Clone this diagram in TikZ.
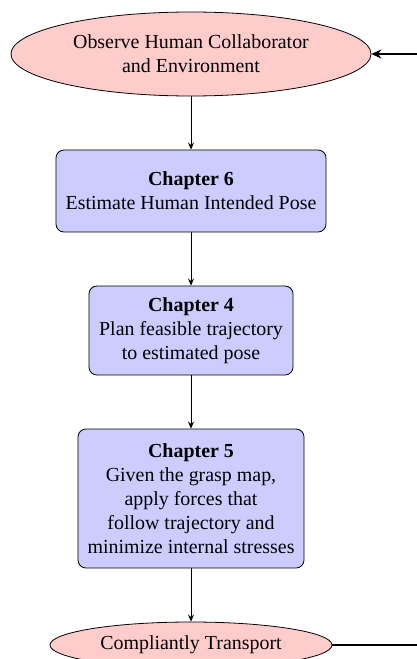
\documentclass[tikz,border=0pt]{standalone}
\usepackage{fontspec}
\setmainfont{Liberation Serif}
\usetikzlibrary{shapes.geometric,arrows.meta}
\begin{document}
\begin{tikzpicture}[x=0.5bp,y=-0.5bp,
  term/.style={ellipse,draw,fill=red!20,align=center,inner sep=3bp},
  chapbox/.style={rectangle,rounded corners=4pt,draw,fill=blue!20,align=center,inner sep=3bp},
  flow/.style={-{Stealth[length=3.5pt,width=3pt]}},
  loopback/.style={thick,-{Stealth[length=5pt,width=4.5pt]}}]
\useasboundingbox (0,0) rectangle (417,659);
\clip (0,0) rectangle (417,659);
\node[term, minimum width=180bp, minimum height=42bp] (obs) at (191,54)
  {Observe Human Collaborator\\and Environment};
\node[chapbox, minimum width=135bp, minimum height=41bp] (c6) at (191,191)
  {\textbf{Chapter 6}\\Estimate Human Intended Pose};
\node[chapbox, minimum width=102bp, minimum height=44.5bp] (c4) at (191,330.5)
  {\textbf{Chapter 4}\\Plan feasible trajectory\\to estimated pose};
\node[chapbox, minimum width=113bp, minimum height=69.5bp] (c5) at (191,498.5)
  {\textbf{Chapter 5}\\Given the grasp map,\\apply forces that\\follow trajectory and\\minimize internal stresses};
\node[term, minimum width=141bp, minimum height=23bp] (ct) at (191,645)
  {Compliantly Transport};
\coordinate (r1) at (460,645);
\coordinate (r2) at (460,54);
\draw[flow] (obs) -- (c6);
\draw[flow] (c6) -- (c4);
\draw[flow] (c4) -- (c5);
\draw[flow] (c5) -- (ct);
\draw[loopback] (ct.east) -- (r1) -- (r2) -- (obs.east);
\end{tikzpicture}
\end{document}
